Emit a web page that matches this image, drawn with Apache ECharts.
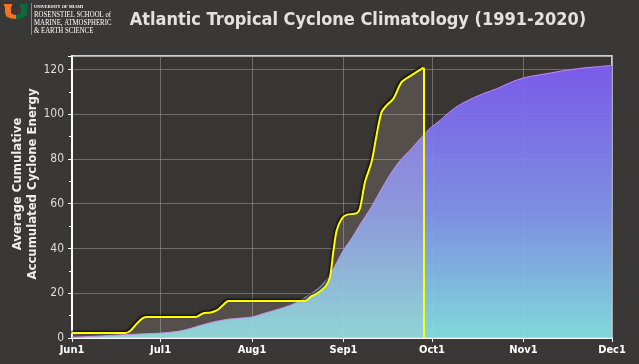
<!DOCTYPE html>
<html><head><meta charset="utf-8">
<script src="https://cdn.jsdelivr.net/npm/echarts@6/dist/echarts.min.js"></script>
<style>html,body{margin:0;padding:0;background:#3a3836;}#c{width:639px;height:364px;}</style>
</head><body><div id="c"></div>
<script>
// Day index counted from June 1
const climDays   = [0,10,18,25,30,36,40,44,48,52,57,61,65,70,74,77,80,84,87,89,92,95,98,101,104,108,111,115,118,121,125,128,131,135,140,144,148,151,155,159,166,173,178,183];
const climValues = [0.3,0.9,1.5,1.9,2.2,3.0,4.2,5.8,7.2,8.2,8.9,9.4,11.0,12.9,14.6,16.5,19.0,22.8,27.5,32.0,39.2,45.0,51.5,57.5,64.5,73.4,79.0,84.5,89.0,93.3,97.5,101.0,103.9,106.7,109.5,111.4,113.8,115.4,116.8,117.7,119.3,120.6,121.2,121.8];
const seasonDays   = [0,18,20,22,24,25.5,42,44,45,47,49,51,53,79,81,83,86,87.4,88.6,89.7,91.4,93,96.5,97.6,99.3,101.5,103.2,104.9,106.6,108.9,111.7,114.6,119.1];
const seasonValues = [2.2,2.2,3.5,6.5,8.9,9.4,9.4,10.8,11.2,11.4,12.3,14.5,16.5,16.5,18.5,19.8,23.2,27.0,39.0,48.0,53.3,55.0,55.8,58.0,69.7,78.6,90.5,100.9,103.9,106.9,114.3,117.0,120.8];
const monthTickDays   = [0,30,61,92,122,153,183];
const monthTickLabels = ['Jun1','Jul1','Aug1','Sep1','Oct1','Nov1','Dec1'];
const yTickValues = [0,20,40,60,80,100,120];

const font = "'DejaVu Sans Condensed','DejaVu Sans',sans-serif";
const chart = echarts.init(document.getElementById('c'), null, {renderer:'canvas'});
const lastDay = seasonDays[seasonDays.length-1];
const lastVal = seasonValues[seasonValues.length-1];

chart.setOption({
  backgroundColor:'#3a3836',
  animation:false,
  grid:{left:72,right:27,top:56,bottom:26,show:true,backgroundColor:'#383532',borderColor:'#ffffff',borderWidth:1.5},
  xAxis:{
    type:'value',min:0,max:183,
    axisLine:{show:true,lineStyle:{color:'#ffffff',width:2}},
    axisTick:{show:true,customValues:monthTickDays,length:4,lineStyle:{color:'#ffffff',width:1}},
    axisLabel:{customValues:monthTickDays,formatter:v=>monthTickLabels[monthTickDays.indexOf(v)],color:'#ffffff',fontWeight:'bold',fontSize:11,fontFamily:font,margin:7},
    splitLine:{show:true,lineStyle:{color:'rgba(150,148,146,0.6)',width:1}}
  },
  yAxis:{
    type:'value',min:0,max:126,interval:20,
    axisLine:{show:true,lineStyle:{color:'#ffffff',width:2}},
    axisTick:{show:true,length:4,lineStyle:{color:'#ffffff',width:1}},
    minorTick:{show:true,splitNumber:2,length:3,lineStyle:{color:'#ffffff',width:1}},
    axisLabel:{customValues:yTickValues,color:'#dddddd',fontSize:12,fontFamily:font,margin:8},
    splitLine:{show:true,lineStyle:{color:'rgba(150,148,146,0.6)',width:1}}
  },
  series:[
    {
      type:'line',name:'Climatology',
      data:climDays.map((d,i)=>[d,climValues[i]]),
      showSymbol:false,smooth:0.3,z:2,
      lineStyle:{color:'#c58af0',width:1},
      areaStyle:{opacity:0.93,color:new echarts.graphic.LinearGradient(0,0,0,1,[
        {offset:0,color:'#7f5df6'},{offset:0.55,color:'#8297ee'},{offset:1,color:'#85e4e6'}])}
    },
    {
      type:'line',name:'Season',
      data:seasonDays.map((d,i)=>[d,seasonValues[i]]),
      showSymbol:false,smooth:0.3,z:3,
      lineStyle:{color:'#ffff00',width:2,shadowColor:'rgba(0,0,0,0.9)',shadowBlur:2,shadowOffsetX:-1,shadowOffsetY:-1},
      areaStyle:{color:'rgba(215,200,190,0.26)'},
      markLine:{silent:true,symbol:'none',label:{show:false},
        lineStyle:{color:'#ffff00',width:2,type:'solid'},
        data:[[{coord:[lastDay,0]},{coord:[lastDay,lastVal]}]]}
    }
  ],
  graphic:[
    {type:'polygon',shape:{points:[[4,4],[12,4],[12,6.5],[11,6.5],[11,13],[13,14.5],[16,15],[16,19],[11,18.5],[6.5,16.5],[5,13],[5,6.5],[4,6.5]]},style:{fill:'#f47321'}},
    {type:'polygon',shape:{points:[[28,4],[20,4],[20,6.5],[21,6.5],[21,13],[19,14.5],[16,15],[16,19],[21,18.5],[25.5,16.5],[27,13],[27,6.5],[28,6.5]]},style:{fill:'#0b6b3a'}},
    {type:'rect',shape:{x:31,y:3,width:1,height:32},style:{fill:'#8a8886'}},
    {type:'text',x:34,y:7,scaleX:0.85,style:{text:'UNIVERSITY OF MIAMI',fill:'#ffffff',font:'bold 5px "Liberation Serif",serif',verticalAlign:'middle'}},
    {type:'text',x:34,y:15,scaleX:0.8,style:{text:'ROSENSTIEL SCHOOL of',fill:'#ffffff',font:'8.5px "Liberation Serif",serif',verticalAlign:'middle'}},
    {type:'text',x:34,y:23,scaleX:0.8,style:{text:'MARINE, ATMOSPHERIC',fill:'#ffffff',font:'8.5px "Liberation Serif",serif',verticalAlign:'middle'}},
    {type:'text',x:34,y:30.5,scaleX:0.8,style:{text:'& EARTH SCIENCE',fill:'#ffffff',font:'8.5px "Liberation Serif",serif',verticalAlign:'middle'}},
    {type:'text',x:358,y:20,style:{text:'Atlantic Tropical Cyclone Climatology (1991-2020)',fill:'#e2e2e2',font:'bold 18px '+font,align:'center',verticalAlign:'middle'}},
    {type:'text',x:25,y:184,rotation:Math.PI/2,style:{text:'Average Cumulative\nAccumulated Cyclone Energy',fill:'#eeeeee',font:'bold 13px '+font,align:'center',verticalAlign:'middle',lineHeight:15}}
  ]
});
</script></body></html>
